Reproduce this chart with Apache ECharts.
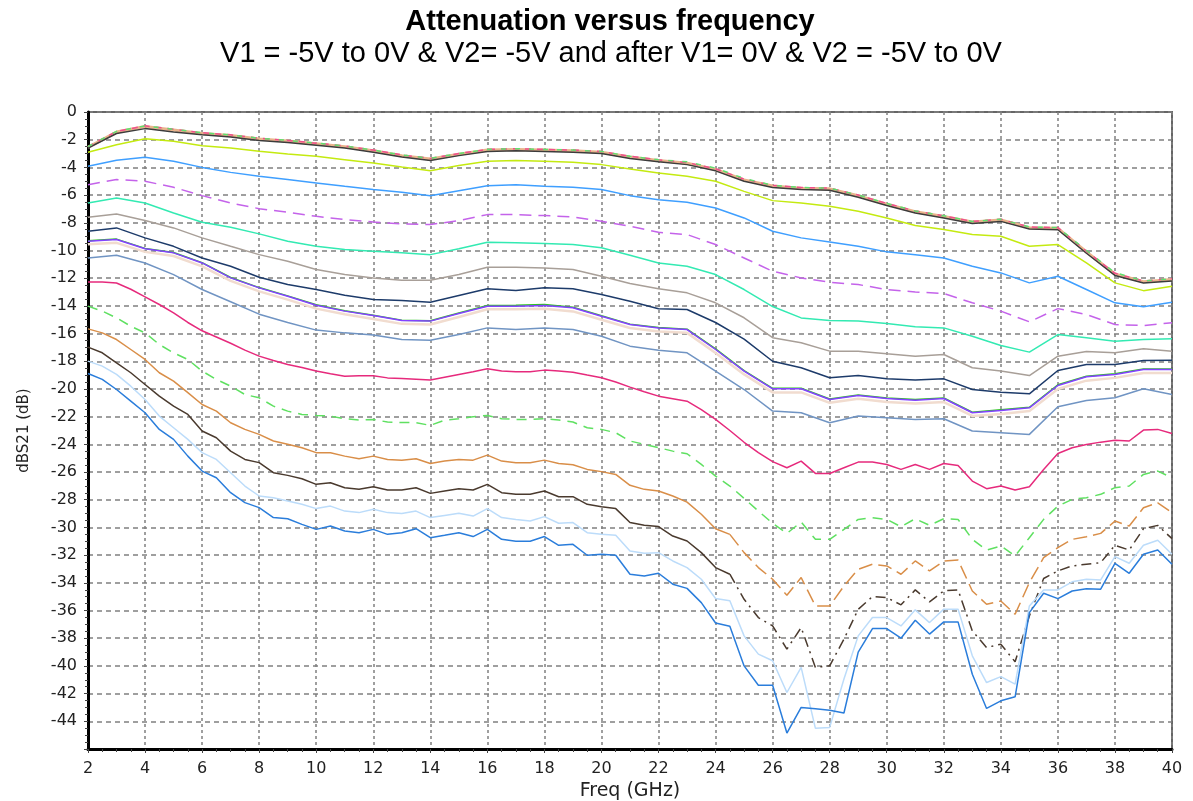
<!DOCTYPE html>
<html>
<head>
<meta charset="utf-8">
<title>Attenuation versus frequency</title>
<script src="https://cdn.jsdelivr.net/npm/echarts@6/dist/echarts.min.js"></script>
<style>
  html, body { margin: 0; padding: 0; background: #fff; }
  #chart { width: 1193px; height: 801px; }
</style>
</head>
<body>
<div id="chart"></div>
<script>
// frequency grids (GHz)
const freqCoarse = [2,3,4,5,6,7,8,9,10,11,12,13,14,15,16,17,18,19,20,21,22,23,24,25,26,27,28,29,30,31,32,33,34,35,36,37,38,39,40];
const freqFine = [2,2.5,3,3.5,4,4.5,5,5.5,6,6.5,7,7.5,8,8.5,9,9.5,10,10.5,11,11.5,12,12.5,13,13.5,14,14.5,15,15.5,16,16.5,17,17.5,18,18.5,19,19.5,20,20.5,21,21.5,22,22.5,23,23.5,24,24.5,25,25.5,26,26.5,27,27.5,28,28.5,29,29.5,30,30.5,31,31.5,32,32.5,33,33.5,34,34.5,35,35.5,36,36.5,37,37.5,38,38.5,39,39.5,40];
const yTicks = [0,-2,-4,-6,-8,-10,-12,-14,-16,-18,-20,-22,-24,-26,-28,-30,-32,-34,-36,-38,-40,-42,-44];

// dBS21 on the coarse grid
const topTan    = [-2.55,-1.45,-1.05,-1.3,-1.55,-1.7,-1.95,-2.1,-2.3,-2.5,-2.8,-3.15,-3.4,-3.05,-2.75,-2.7,-2.75,-2.8,-2.9,-3.25,-3.5,-3.7,-4.15,-4.9,-5.35,-5.5,-5.55,-6.05,-6.65,-7.2,-7.55,-7.95,-7.8,-8.35,-8.4,-10.1,-11.7,-12.25,-12.1];
const topBlack  = [-2.6,-1.55,-1.2,-1.45,-1.65,-1.8,-2.05,-2.2,-2.4,-2.6,-2.9,-3.25,-3.5,-3.15,-2.85,-2.8,-2.85,-2.9,-3.0,-3.35,-3.6,-3.8,-4.25,-5.0,-5.45,-5.6,-5.65,-6.15,-6.75,-7.3,-7.65,-8.05,-7.9,-8.45,-8.5,-10.2,-11.8,-12.35,-12.2];
const topPink   = [-2.5,-1.4,-1.0,-1.25,-1.5,-1.65,-1.9,-2.05,-2.25,-2.45,-2.75,-3.1,-3.35,-3.0,-2.7,-2.65,-2.7,-2.75,-2.85,-3.2,-3.45,-3.65,-4.1,-4.85,-5.3,-5.45,-5.5,-6.0,-6.6,-7.15,-7.5,-7.9,-7.75,-8.3,-8.35,-10.05,-11.65,-12.2,-12.05];
const topGreen  = [-2.5,-1.4,-1.0,-1.25,-1.5,-1.65,-1.9,-2.05,-2.25,-2.45,-2.75,-3.1,-3.35,-3.0,-2.7,-2.65,-2.7,-2.75,-2.85,-3.2,-3.45,-3.6,-4.05,-4.8,-5.3,-5.45,-5.5,-6.0,-6.6,-7.15,-7.5,-7.9,-7.75,-8.3,-8.35,-10.0,-11.6,-12.2,-12.05];
const yellowGreen = [-2.91,-2.36,-1.93,-2.12,-2.43,-2.6,-2.84,-3.03,-3.2,-3.44,-3.68,-3.97,-4.24,-3.87,-3.56,-3.51,-3.56,-3.63,-3.8,-4.11,-4.4,-4.64,-5.0,-5.73,-6.4,-6.57,-6.81,-7.17,-7.65,-8.2,-8.49,-8.85,-8.97,-9.7,-9.57,-10.9,-12.34,-12.9,-12.58];
const skyBlue   = [-3.92,-3.49,-3.27,-3.56,-4.0,-4.36,-4.64,-4.88,-5.12,-5.37,-5.6,-5.8,-6.04,-5.68,-5.32,-5.25,-5.37,-5.44,-5.6,-6.04,-6.33,-6.52,-6.93,-7.65,-8.61,-9.09,-9.38,-9.7,-10.1,-10.3,-10.54,-11.14,-11.62,-12.34,-11.86,-12.82,-13.78,-14.07,-13.74];
const violetDash = [-5.25,-4.88,-5.0,-5.44,-6.04,-6.57,-6.98,-7.24,-7.53,-7.77,-7.94,-8.08,-8.13,-7.84,-7.41,-7.41,-7.48,-7.58,-7.89,-8.25,-8.69,-8.85,-9.57,-10.54,-11.5,-11.98,-12.29,-12.46,-12.82,-12.99,-13.11,-13.78,-14.38,-15.15,-14.2,-14.62,-15.35,-15.42,-15.22];
const aqua      = [-6.57,-6.21,-6.57,-7.29,-7.96,-8.32,-8.8,-9.33,-9.7,-9.93,-10.05,-10.17,-10.3,-9.88,-9.4,-9.45,-9.5,-9.57,-9.81,-10.34,-10.9,-11.14,-11.74,-12.82,-14.05,-14.87,-15.06,-15.1,-15.27,-15.51,-15.59,-16.19,-16.86,-17.34,-16.07,-16.31,-16.55,-16.43,-16.38];
const grayBrown = [-7.6,-7.36,-7.84,-8.37,-9.09,-9.7,-10.3,-10.78,-11.38,-11.74,-11.98,-12.15,-12.15,-11.74,-11.21,-11.21,-11.26,-11.38,-11.86,-12.39,-12.77,-13.06,-13.78,-14.86,-16.3,-16.67,-17.27,-17.27,-17.46,-17.63,-17.51,-18.47,-18.71,-19.03,-17.63,-17.3,-17.39,-17.1,-17.27];
const navy      = [-8.61,-8.37,-9.09,-9.7,-10.54,-11.14,-11.93,-12.46,-12.82,-13.23,-13.54,-13.61,-13.74,-13.25,-12.77,-12.89,-12.7,-12.77,-13.18,-13.66,-14.21,-14.26,-15.2,-16.4,-18.0,-18.47,-19.19,-19.03,-19.27,-19.36,-19.27,-20.04,-20.23,-20.35,-18.67,-18.23,-18.23,-17.94,-17.92];
const beige     = [-9.55,-9.45,-10.1,-10.4,-11.15,-12.2,-12.95,-13.55,-14.2,-14.6,-14.95,-15.3,-15.35,-14.8,-14.25,-14.25,-14.2,-14.4,-15.0,-15.6,-15.85,-15.95,-17.4,-18.95,-20.25,-20.25,-21.0,-20.7,-20.95,-21.05,-20.95,-21.95,-21.8,-21.6,-20.0,-19.4,-19.2,-18.85,-18.85];
const leafGreen = [-9.3,-9.18,-9.85,-10.15,-10.88,-11.95,-12.68,-13.28,-13.92,-14.35,-14.68,-15.03,-15.07,-14.52,-13.98,-13.95,-13.9,-14.1,-14.72,-15.32,-15.56,-15.68,-17.1,-18.68,-19.95,-19.95,-20.72,-20.43,-20.65,-20.77,-20.65,-21.68,-21.5,-21.32,-19.7,-19.08,-18.9,-18.55,-18.55];
const violet    = [-9.33,-9.21,-9.88,-10.17,-10.9,-11.98,-12.7,-13.3,-13.95,-14.38,-14.7,-15.06,-15.1,-14.55,-14.03,-14.03,-13.98,-14.14,-14.75,-15.35,-15.59,-15.71,-17.15,-18.71,-19.99,-19.99,-20.76,-20.47,-20.69,-20.81,-20.69,-21.72,-21.55,-21.36,-19.75,-19.12,-18.95,-18.59,-18.59];
const steelBlue = [-10.54,-10.34,-10.9,-11.74,-12.82,-13.7,-14.6,-15.2,-15.75,-15.95,-16.1,-16.43,-16.48,-16.07,-15.59,-15.71,-15.59,-15.71,-16.19,-16.91,-17.2,-17.39,-18.71,-20.04,-21.6,-21.72,-22.44,-21.96,-22.08,-22.2,-22.15,-23.04,-23.16,-23.28,-21.28,-20.83,-20.64,-19.99,-20.4];

// dBS21 on the fine grid
const crimson   = [-12.27,-12.27,-12.35,-12.8,-13.35,-13.9,-14.5,-15.2,-15.8,-16.25,-16.7,-17.2,-17.63,-17.95,-18.23,-18.45,-18.71,-18.9,-19.08,-19.05,-19.05,-19.2,-19.24,-19.3,-19.36,-19.15,-18.95,-18.75,-18.54,-18.7,-18.76,-18.75,-18.64,-18.7,-18.79,-19.0,-19.19,-19.5,-19.87,-20.2,-20.52,-20.7,-20.88,-21.5,-22.2,-23.0,-23.85,-24.6,-25.25,-25.69,-25.21,-26.1,-26.1,-25.69,-25.28,-25.28,-25.45,-25.81,-25.45,-25.81,-25.38,-25.52,-26.65,-27.2,-27.01,-27.3,-27.06,-25.81,-24.66,-24.25,-24.01,-23.84,-23.7,-23.76,-22.97,-22.92,-23.21];
const greenDash = [-14.02,-14.38,-14.87,-15.47,-15.95,-16.79,-17.39,-17.87,-18.71,-19.31,-19.8,-20.4,-20.64,-21.24,-21.6,-21.84,-21.91,-21.96,-22.15,-22.25,-22.2,-22.39,-22.42,-22.44,-22.63,-22.25,-22.15,-22.01,-21.91,-22.15,-22.2,-22.2,-22.15,-22.25,-22.39,-22.8,-22.92,-23.16,-23.76,-24.0,-24.24,-24.49,-24.68,-25.45,-26.29,-27.01,-27.9,-28.82,-29.7,-30.43,-29.61,-30.86,-30.86,-30.14,-29.42,-29.3,-29.42,-29.95,-29.37,-29.85,-29.37,-29.42,-30.86,-31.63,-31.34,-32.06,-30.74,-29.42,-28.46,-27.97,-27.85,-27.61,-27.13,-27.01,-26.17,-25.93,-26.41];
const orange    = [-15.66,-15.95,-16.43,-17.15,-17.87,-18.83,-19.44,-20.27,-21.12,-21.6,-22.44,-22.92,-23.28,-23.76,-24.0,-24.24,-24.6,-24.6,-24.85,-25.04,-24.85,-25.09,-25.14,-25.04,-25.38,-25.21,-25.09,-25.14,-24.78,-25.21,-25.33,-25.33,-25.14,-25.38,-25.47,-25.81,-25.97,-26.17,-26.96,-27.25,-27.37,-27.73,-28.17,-29.05,-30.09,-30.5,-31.82,-32.9,-33.74,-34.9,-33.62,-35.67,-35.67,-34.23,-33.02,-32.66,-32.78,-33.38,-32.42,-33.14,-32.43,-32.35,-34.59,-35.55,-35.31,-36.27,-33.98,-32.18,-31.46,-30.86,-30.67,-30.43,-29.54,-29.9,-28.58,-28.22,-28.94];
const darkBrown = [-16.98,-17.39,-18.11,-18.83,-19.68,-20.52,-21.24,-21.84,-23.04,-23.52,-24.49,-25.09,-25.32,-26.05,-26.24,-26.48,-26.89,-26.77,-27.13,-27.25,-27.06,-27.3,-27.3,-27.13,-27.54,-27.37,-27.2,-27.3,-26.89,-27.49,-27.61,-27.61,-27.37,-27.78,-27.78,-28.33,-28.5,-28.64,-29.65,-29.85,-29.94,-30.62,-30.98,-31.82,-32.9,-33.38,-35.19,-36.51,-37.11,-38.79,-37.23,-40.11,-39.99,-38.07,-35.91,-34.99,-35.07,-35.59,-34.51,-35.38,-34.58,-34.51,-37.47,-38.67,-38.43,-39.7,-36.39,-33.69,-33.14,-32.78,-32.66,-32.54,-31.29,-31.63,-30.09,-29.85,-30.81];
const paleBlue  = [-17.99,-18.35,-18.95,-19.8,-20.76,-21.96,-22.8,-23.64,-24.6,-25.09,-26.05,-27.01,-27.73,-27.85,-28.09,-28.33,-28.64,-28.46,-28.82,-28.93,-28.69,-28.93,-29.0,-28.82,-29.29,-29.13,-28.98,-29.18,-28.64,-29.29,-29.42,-29.54,-29.22,-29.7,-29.65,-30.38,-30.5,-30.57,-31.7,-31.87,-31.82,-32.42,-32.9,-33.74,-35.13,-35.3,-37.83,-39.15,-39.63,-41.92,-40.11,-44.51,-44.44,-40.95,-37.83,-36.51,-36.51,-37.11,-35.95,-36.87,-35.9,-35.9,-39.27,-41.2,-40.77,-41.32,-35.67,-34.51,-34.51,-33.93,-33.74,-33.79,-32.11,-32.59,-31.29,-30.93,-31.94];
const blue      = [-18.88,-19.31,-20.04,-20.88,-21.72,-22.92,-23.64,-24.85,-25.93,-26.41,-27.49,-28.21,-28.57,-29.29,-29.37,-29.78,-30.14,-29.9,-30.26,-30.38,-30.14,-30.5,-30.38,-30.09,-30.74,-30.57,-30.38,-30.66,-30.14,-30.86,-31.0,-31.0,-30.66,-31.29,-31.22,-32.01,-31.94,-32.01,-33.38,-33.5,-33.31,-34.1,-34.4,-35.43,-36.9,-37.13,-40.0,-41.4,-41.4,-44.85,-43.0,-43.1,-43.2,-43.4,-39.0,-37.3,-37.3,-38.0,-36.7,-37.7,-36.82,-36.82,-40.6,-43.07,-42.52,-42.23,-36.15,-34.75,-35.14,-34.59,-34.42,-34.46,-32.59,-33.31,-31.94,-31.63,-32.66];

// where the orange and dark brown traces switch from solid to dashed
const dashFrom = 24.5;

function pairs(freq, vals) {
  return freq.map((f, i) => [f, vals[i]]);
}

function line(name, freq, vals, color, width, dash) {
  return {
    name: name,
    type: 'line',
    data: pairs(freq, vals),
    symbol: 'none',
    silent: true,
    animation: false,
    lineStyle: { color: color, width: width, type: dash || 'solid' }
  };
}

function splitLine(name, vals, color, dash) {
  const all = pairs(freqFine, vals);
  return [
    {
      name: name, type: 'line', symbol: 'none', silent: true, animation: false,
      data: all.filter(p => p[0] <= dashFrom),
      lineStyle: { color: color, width: 1.5 }
    },
    {
      name: name + ' (dashed)', type: 'line', symbol: 'none', silent: true, animation: false,
      data: all.filter(p => p[0] >= dashFrom),
      lineStyle: { color: color, width: 1.5, type: dash }
    }
  ];
}

const series = [
  line('T1', freqCoarse, topTan, '#e9b48c', 3),
  line('T2', freqCoarse, topBlack, '#3c3c3c', 1.5),
  line('T3', freqCoarse, topPink, '#f0508c', 1.5, [6, 6]),
  line('T4', freqCoarse, topGreen, '#60e070', 1.5, [5, 9]),
  line('T5', freqCoarse, yellowGreen, '#c4ea10', 1.5),
  line('T6', freqCoarse, skyBlue, '#3f9fff', 1.5),
  line('T7', freqCoarse, violetDash, '#c463ea', 1.5, [12, 7]),
  line('T8', freqCoarse, aqua, '#33eab2', 1.5),
  line('T9', freqCoarse, grayBrown, '#a89f98', 1.5),
  line('T10', freqCoarse, navy, '#1d3b6a', 1.5),
  line('T11', freqCoarse, beige, '#f1dccf', 2.5),
  line('T12', freqCoarse, leafGreen, '#2fc222', 1.5),
  line('T13', freqCoarse, violet, '#8442ff', 1.5),
  line('T14', freqCoarse, steelBlue, '#7094c3', 1.5),
  line('T15', freqFine, crimson, '#e62a7c', 1.5),
  line('T16', freqFine, greenDash, '#5fe061', 1.5, [10, 7]),
  ...splitLine('T17', orange, '#d98e48', [14, 6]),
  ...splitLine('T18', darkBrown, '#4a3a2e', [10, 5, 2, 5]),
  line('T19', freqFine, paleBlue, '#bcdcfa', 1.5),
  line('T20', freqFine, blue, '#2a7ddb', 1.5)
];

const option = {
  backgroundColor: '#ffffff',
  title: [
    {
      text: 'Attenuation versus frequency',
      left: 605, top: 2, textAlign: 'center',
      textStyle: { fontFamily: 'Liberation Sans', fontSize: 29, fontWeight: 'bold', color: '#000' }
    },
    {
      text: 'V1 = -5V to 0V & V2= -5V and after V1= 0V & V2 = -5V to 0V',
      left: 606, top: 34, textAlign: 'center',
      textStyle: { fontFamily: 'Liberation Sans', fontSize: 29, fontWeight: 'normal', color: '#000' }
    }
  ],
  grid: {
    left: 88, right: 21, top: 112, bottom: 52,
    containLabel: false, outerBoundsMode: 'none',
    show: true, borderColor: '#666', borderWidth: 2, backgroundColor: '#fff'
  },
  xAxis: {
    type: 'value', min: 2, max: 40, interval: 2,
    name: 'Freq (GHz)', nameLocation: 'middle', nameGap: 27,
    nameTextStyle: { fontFamily: 'DejaVu Sans', fontSize: 19, color: '#222' },
    axisLine: { show: true, onZero: false, lineStyle: { color: '#000', width: 3 } },
    axisTick: { show: true, length: 4, lineStyle: { color: '#444' } },
    minorTick: { show: true, splitNumber: 4, length: 3, lineStyle: { color: '#444' } },
    axisLabel: { fontFamily: 'DejaVu Sans', fontSize: 16, color: '#222', margin: 12 },
    splitLine: { show: true, lineStyle: { color: '#808080', width: 1.5, type: [3, 3] } }
  },
  yAxis: {
    type: 'value', min: -46, max: 0, interval: 2,
    name: 'dBS21 (dB)', nameLocation: 'middle', nameRotate: 90, nameGap: 56,
    nameTextStyle: { fontFamily: 'DejaVu Sans', fontSize: 15, color: '#222' },
    axisLine: { show: true, onZero: false, lineStyle: { color: '#000', width: 3 } },
    axisTick: { show: true, length: 4, lineStyle: { color: '#444' } },
    minorTick: { show: true, splitNumber: 4, length: 3, lineStyle: { color: '#444' } },
    axisLabel: {
      fontFamily: 'DejaVu Sans', fontSize: 16, color: '#222', margin: 11,
      formatter: v => (yTicks.indexOf(v) >= 0 ? String(v) : '')
    },
    splitLine: { show: true, lineStyle: { color: '#808080', width: 1.5, type: [5, 4] } }
  },
  series: series
};

const chart = echarts.init(document.getElementById('chart'), null, { renderer: 'canvas' });
chart.setOption(option);
</script>
</body>
</html>
